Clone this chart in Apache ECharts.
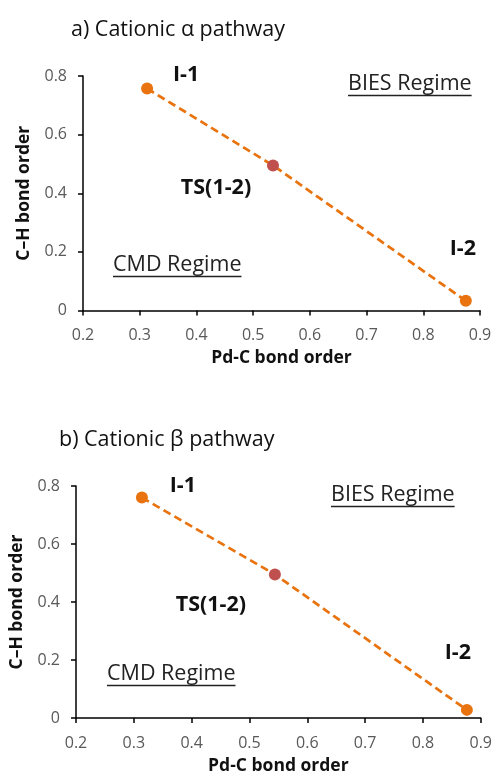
<!DOCTYPE html>
<html>
<head>
<meta charset="utf-8">
<script src="https://cdn.jsdelivr.net/npm/echarts@6/dist/echarts.min.js"></script>
<style>
html,body{margin:0;padding:0;background:#fff;}
#chart{width:495px;height:776px;}
</style>
</head>
<body>
<div id="chart"></div>
<script>
// Bond-order trajectories (Pd-C vs C-H) for the two cationic pathways
const pointNames = ['I-1', 'TS(1-2)', 'I-2'];
const alphaPdC = [0.313, 0.535, 0.875];
const alphaCH  = [0.757, 0.495, 0.033];
const betaPdC  = [0.314, 0.544, 0.876];
const betaCH   = [0.760, 0.495, 0.028];
const xTicks = [0.2, 0.3, 0.4, 0.5, 0.6, 0.7, 0.8, 0.9];
const yTicks = [0, 0.2, 0.4, 0.6, 0.8];

const FONT = '"Open Sans", sans-serif';
const ORANGE = '#E8730F';
const TS_RED = '#C0504D';
const TICK_GRAY = '#595959';

// per-point label offsets for each panel
const alphaOffsets = [[39, -14], [-57, 22], [-3, -52]];
const betaOffsets  = [[41, -12], [-64, 30], [-9, -57]];

function buildData(xs, ys, offsets) {
  return xs.map((x, i) => ({
    value: [x, ys[i]],
    name: pointNames[i],
    itemStyle: { color: i === 1 ? TS_RED : ORANGE },
    label: { offset: offsets[i] }
  }));
}

const fmt = v => (Math.round(v * 10) / 10).toString();

function xAxis(gridIndex) {
  return {
    type: 'value', gridIndex, min: xTicks[0], max: xTicks[xTicks.length - 1], interval: 0.1,
    name: 'Pd-C bond order', nameLocation: 'middle', nameGap: 39,
    nameTextStyle: { fontFamily: FONT, fontSize: 17.5, fontWeight: 'bold', color: '#111' },
    axisLine: { onZero: false, lineStyle: { color: '#000', width: 1.5 } },
    axisTick: { show: true, length: 5, lineStyle: { color: '#000', width: 1.5 } },
    axisLabel: { fontFamily: FONT, fontSize: 16, color: TICK_GRAY, margin: 17, formatter: fmt },
    splitLine: { show: false }
  };
}

function yAxis(gridIndex) {
  return {
    type: 'value', gridIndex, min: yTicks[0], max: yTicks[yTicks.length - 1], interval: 0.2,
    name: 'C\u2013H bond order', nameLocation: 'middle', nameGap: 50, nameRotate: 90,
    nameTextStyle: { fontFamily: FONT, fontSize: 17.5, fontWeight: 'bold', color: '#111' },
    axisLine: { lineStyle: { color: '#000', width: 1.5 } },
    axisTick: { show: true, length: 5, lineStyle: { color: '#000', width: 1.5 } },
    axisLabel: { fontFamily: FONT, fontSize: 16, color: TICK_GRAY, margin: 16, formatter: fmt },
    splitLine: { show: false }
  };
}

function pathSeries(idx, xs, ys, offsets) {
  return {
    type: 'line', xAxisIndex: idx, yAxisIndex: idx,
    data: buildData(xs, ys, offsets),
    symbol: 'circle', symbolSize: 12,
    lineStyle: { color: ORANGE, width: 2.75, type: [8, 4.5] },
    label: {
      show: true, position: 'inside',
      formatter: p => p.name,
      fontFamily: FONT, fontSize: 21.5, fontWeight: 'bold', color: '#111'
    },
    z: 3
  };
}

function regimeText(x, y, text) {
  return {
    type: 'group', x, y,
    children: [
      { type: 'text', style: { text, fontFamily: FONT, fontSize: 21.5, fill: '#222',
          textAlign: 'left', textVerticalAlign: 'bottom' } },
      { type: 'line', shape: { x1: 0, y1: 0.5, x2: 0, y2: 0.5 }, style: { stroke: '#222', lineWidth: 1.3 } }
    ]
  };
}

const chart = echarts.init(document.getElementById('chart'), null, { renderer: 'canvas' });

const option = {
  backgroundColor: '#fff',
  animation: false,
  title: [
    { text: 'a) Cationic \u03b1 pathway', left: 66, top: 14,
      textStyle: { fontFamily: FONT, fontSize: 21.5, fontWeight: 'normal', color: '#111' } },
    { text: 'b) Cationic \u03b2 pathway', left: 54, top: 424,
      textStyle: { fontFamily: FONT, fontSize: 21.5, fontWeight: 'normal', color: '#111' } }
  ],
  grid: [
    { left: 83, top: 76, width: 397, height: 234.5 },
    { left: 76, top: 486, width: 407, height: 232 }
  ],
  xAxis: [xAxis(0), xAxis(1)],
  yAxis: [yAxis(0), yAxis(1)],
  series: [
    pathSeries(0, alphaPdC, alphaCH, alphaOffsets),
    pathSeries(1, betaPdC, betaCH, betaOffsets)
  ]
};
chart.setOption(option);

// Regime annotations with underline sized to the rendered text width
function addRegimes() {
  const items = [
    [348, 95, 'BIES Regime'],
    [113, 276, 'CMD Regime'],
    [331, 506, 'BIES Regime'],
    [107, 685, 'CMD Regime']
  ];
  const graphics = items.map(([x, y, t]) => {
    const w = echarts.format.getTextRect
      ? echarts.format.getTextRect(t, '21.5px ' + FONT).width
      : t.length * 11;
    const g = regimeText(x, y, t);
    g.children[1].shape.x2 = w;
    return g;
  });
  chart.setOption({ graphic: graphics });
}
addRegimes();
</script>
</body>
</html>
